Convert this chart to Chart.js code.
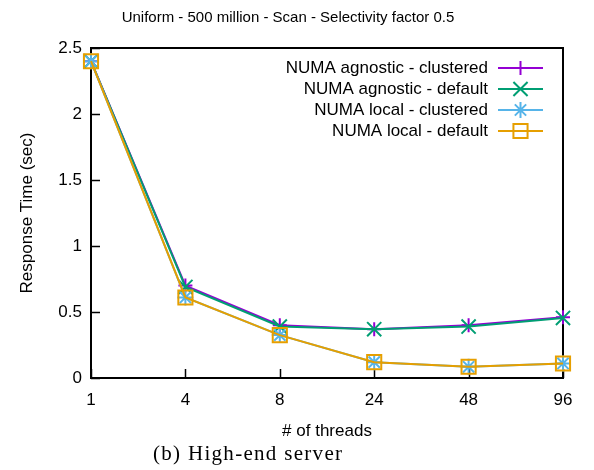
<!DOCTYPE html>
<html>
<head>
<meta charset="utf-8">
<script src="https://cdn.jsdelivr.net/npm/chart.js@4"></script>
<style>
  body { margin: 0; background: #fff; }
  #wrap { position: relative; width: 594px; height: 470px; }
  #caption { position: absolute; left: 153px; top: 441px; font-family: "Liberation Serif", serif; font-size: 21px; letter-spacing: 1.3px; color: #000; white-space: nowrap; }
</style>
</head>
<body>
<div id="wrap">
  <canvas id="chart" width="594" height="470"></canvas>
  <div id="caption">(b) High-end server</div>
</div>
<script>
// threads on the x axis, response times in seconds
const threads = ['1', '4', '8', '24', '48', '96'];
const agnosticClustered = [2.40, 0.70, 0.40, 0.37, 0.40, 0.46];
const agnosticDefault   = [2.40, 0.69, 0.39, 0.37, 0.39, 0.455];
const localClustered    = [2.40, 0.61, 0.325, 0.12, 0.085, 0.11];
const localDefault      = [2.40, 0.61, 0.325, 0.12, 0.085, 0.11];
const yTicks = [0, 0.5, 1, 1.5, 2, 2.5];

const seriesNames = ['NUMA agnostic - clustered', 'NUMA agnostic - default', 'NUMA local - clustered', 'NUMA local - default'];
const seriesColors = ['#9400d3', '#009e73', '#56b4e9', '#e69f00'];
const seriesPoints = ['cross', 'crossRot', 'star', 'rect'];
const seriesRadius = [7, 10, 8, 10];
const seriesData = [agnosticClustered, agnosticDefault, localClustered, localDefault];

const sans = '"Liberation Sans", Arial, sans-serif';
Chart.defaults.font.family = sans;
Chart.defaults.font.size = 17;
Chart.defaults.color = '#000';

// gnuplot-ish frame, inward ticks, title and key
const frame = {
    id: 'frame',
    beforeDatasetsDraw(chart) {
        const { ctx, chartArea: a, scales: { x, y } } = chart;
        ctx.save();
        ctx.strokeStyle = '#000';
        ctx.lineWidth = 2;
        ctx.strokeRect(a.left, a.top, a.right - a.left, a.bottom - a.top);
        ctx.lineWidth = 1.5;
        ctx.beginPath();
        yTicks.forEach(v => {
            const py = Math.round(y.getPixelForValue(v)) + 0.5;
            ctx.moveTo(a.left, py);
            ctx.lineTo(a.left + 9, py);
        });
        threads.forEach((t, i) => {
            const px = Math.round(x.getPixelForValue(i)) + 0.5;
            ctx.moveTo(px, a.bottom);
            ctx.lineTo(px, a.bottom - 9);
        });
        ctx.stroke();
        ctx.restore();
    },
    afterDraw(chart) {
        const { ctx } = chart;
        ctx.save();
        ctx.fillStyle = '#000';
        ctx.font = '15px ' + sans;
        ctx.textAlign = 'center';
        ctx.textBaseline = 'middle';
        ctx.fillText('Uniform - 500 million - Scan - Selectivity factor 0.5', 288, 18);

        ctx.font = '17px ' + sans;
        ctx.textAlign = 'right';
        seriesNames.forEach((name, i) => {
            const ly = 68 + 21 * i;
            ctx.fillStyle = '#000';
            ctx.fillText(name, 488, ly);
            ctx.strokeStyle = seriesColors[i];
            ctx.lineWidth = 2;
            ctx.beginPath();
            ctx.moveTo(498, ly);
            ctx.lineTo(543, ly);
            ctx.stroke();
            ctx.fillStyle = 'rgba(0,0,0,0)';
            Chart.helpers.drawPoint(ctx, {
                pointStyle: seriesPoints[i],
                radius: seriesRadius[i],
                borderWidth: 2,
                rotation: 0
            }, 520.5, ly);
        });
        ctx.restore();
    }
};

new Chart(document.getElementById('chart'), {
    type: 'line',
    data: {
        labels: threads,
        datasets: seriesData.map((d, i) => ({
            label: seriesNames[i],
            data: d,
            borderColor: seriesColors[i],
            backgroundColor: seriesColors[i],
            pointBackgroundColor: 'rgba(0,0,0,0)',
            pointBorderColor: seriesColors[i],
            pointStyle: seriesPoints[i],
            pointRadius: seriesRadius[i],
            pointHoverRadius: seriesRadius[i],
            pointBorderWidth: 2,
            borderWidth: 2,
            tension: 0,
            fill: false,
            clip: false,
            order: 4 - i
        }))
    },
    options: {
        responsive: false,
        animation: false,
        layout: { padding: { top: 48, right: 31, left: 0, bottom: 0 } },
        plugins: {
            legend: { display: false },
            title: { display: false },
            tooltip: { enabled: false }
        },
        scales: {
            x: {
                type: 'category',
                offset: false,
                grid: { display: false },
                border: { display: false },
                ticks: { padding: 4, maxRotation: 0 },
                title: { display: true, text: '# of threads', padding: { top: 0, bottom: 28 } },
                afterFit(s) { s.height = 92; }
            },
            y: {
                min: 0,
                max: 2.5,
                grid: { display: false },
                border: { display: false },
                ticks: { stepSize: 0.5, padding: 1, callback: v => String(v) },
                afterBuildTicks(s) { s.ticks = yTicks.map(v => ({ value: v })); },
                title: { display: true, text: 'Response Time (sec)', padding: { top: 17, bottom: 0 } },
                afterFit(s) { s.width = 91; }
            }
        }
    },
    plugins: [frame]
});
</script>
</body>
</html>
